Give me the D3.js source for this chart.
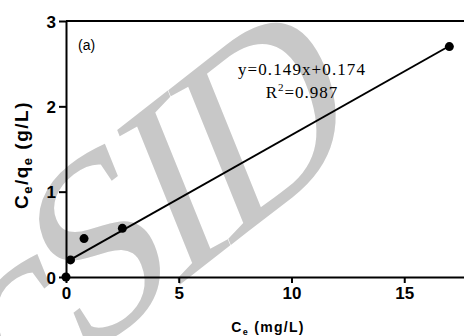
<!DOCTYPE html>
<html>
<head>
<meta charset="utf-8">
<script src="https://cdn.jsdelivr.net/npm/d3@7"></script>
<style>
  body { margin: 0; background: #fff; }
  svg { display: block; }
  .axis path, .axis line { stroke: #000; stroke-width: 2; }
</style>
</head>
<body>
<div id="chart-area"></div>
<script>
// measured points (Ce, Ce/qe)
var ceValues = [0, 0.2, 0.8, 2.5, 17.0];
var ratioValues = [0, 0.2, 0.45, 0.57, 2.70];

// linear fit shown on the plot
var fitSlope = 0.149;
var fitIntercept = 0.174;
var fitRange = [0.2, 17.0];

var xTicks = [0, 5, 10, 15];
var yTicks = [0, 1, 2, 3];

var W = 464, H = 336;
var margins = { left: 66, right: 0, top: 21, bottom: 59 };
var width = W - margins.left - margins.right;
var height = H - margins.top - margins.bottom;

var sans = "Liberation Sans, Arial, sans-serif";
var serif = "Liberation Serif, Times New Roman, serif";

var svg = d3.select("#chart-area")
    .append("svg")
    .attr("width", W)
    .attr("height", H);

// watermark behind everything
svg.append("text")
    .attr("transform", "translate(178,286) rotate(-38) skewX(-16)")
    .attr("text-anchor", "middle")
    .attr("font-family", serif)
    .attr("font-size", 245)
    .attr("letter-spacing", -15)
    .attr("fill", "#c8c8c8")
    .text("cSID");

var g = svg.append("g")
    .attr("transform", "translate(" + margins.left + "," + margins.top + ")");

var x = d3.scaleLinear().domain([0, 17.65]).range([0, width]);
var y = d3.scaleLinear().domain([0, 3]).range([height, 0]);

// top frame line
g.append("line")
    .attr("x1", 0).attr("x2", width)
    .attr("y1", y(3)).attr("y2", y(3))
    .attr("stroke", "#000").attr("stroke-width", 2);

var xAxisGroup = g.append("g")
    .attr("class", "x axis")
    .attr("transform", "translate(0," + height + ")")
    .call(d3.axisBottom(x).tickValues(xTicks).tickFormat(d3.format("d"))
        .tickSize(6).tickPadding(4).tickSizeOuter(0));

var yAxisGroup = g.append("g")
    .attr("class", "y axis")
    .call(d3.axisLeft(y).tickValues(yTicks).tickFormat(d3.format("d"))
        .tickSize(7).tickPadding(3).tickSizeOuter(0));

g.selectAll(".axis text")
    .attr("font-family", sans)
    .attr("font-weight", "bold")
    .attr("font-size", 17)
    .attr("fill", "#000");
yAxisGroup.selectAll("text").attr("dy", "0.36em");

// fit line
g.append("line")
    .attr("x1", x(fitRange[0])).attr("y1", y(fitSlope * fitRange[0] + fitIntercept))
    .attr("x2", x(fitRange[1])).attr("y2", y(fitSlope * fitRange[1] + fitIntercept))
    .attr("stroke", "#000").attr("stroke-width", 2);

// points
g.selectAll("circle.pt")
    .data(d3.zip(ceValues, ratioValues))
    .enter()
    .append("circle")
    .attr("class", "pt")
    .attr("cx", function(d) { return x(d[0]); })
    .attr("cy", function(d) { return y(d[1]); })
    .attr("r", 4.5)
    .attr("fill", "#000");

// panel label
g.append("text")
    .attr("x", 12).attr("y", 29)
    .attr("font-family", sans)
    .attr("font-size", 14)
    .text("(a)");

// equation
g.append("text")
    .attr("font-family", serif)
    .attr("font-size", 17)
    .attr("letter-spacing", 1.1)
    .attr("text-anchor", "middle")
    .attr("x", 236).attr("y", 54)
    .text("y=0.149x+0.174");
var r2 = g.append("text")
    .attr("font-family", serif)
    .attr("font-size", 17)
    .attr("letter-spacing", 1)
    .attr("text-anchor", "middle")
    .attr("x", 236).attr("y", 77);
r2.append("tspan").text("R");
r2.append("tspan").attr("font-size", 11).attr("dy", -7).text("2");
r2.append("tspan").attr("dy", 7).text("=0.987");

// x axis title
var xt = svg.append("text")
    .attr("x", 268).attr("y", 332)
    .attr("text-anchor", "middle")
    .attr("font-family", sans)
    .attr("font-weight", "bold")
    .attr("font-size", 14)
    .attr("letter-spacing", 1.3);
xt.append("tspan").text("C");
xt.append("tspan").attr("font-size", 9).attr("dy", 3).text("e");
xt.append("tspan").attr("dy", -3).text(" (mg/L)");

// y axis title
var yt = svg.append("text")
    .attr("transform", "translate(28,155) rotate(-90)")
    .attr("text-anchor", "middle")
    .attr("font-family", sans)
    .attr("font-weight", "bold")
    .attr("font-size", 19)
    .attr("letter-spacing", 1.5);
yt.append("tspan").text("C");
yt.append("tspan").attr("font-size", 13).attr("dy", 4).text("e");
yt.append("tspan").attr("dy", -4).text("/q");
yt.append("tspan").attr("font-size", 13).attr("dy", 4).text("e");
yt.append("tspan").attr("dy", -4).text(" (g/L)");
</script>
</body>
</html>
